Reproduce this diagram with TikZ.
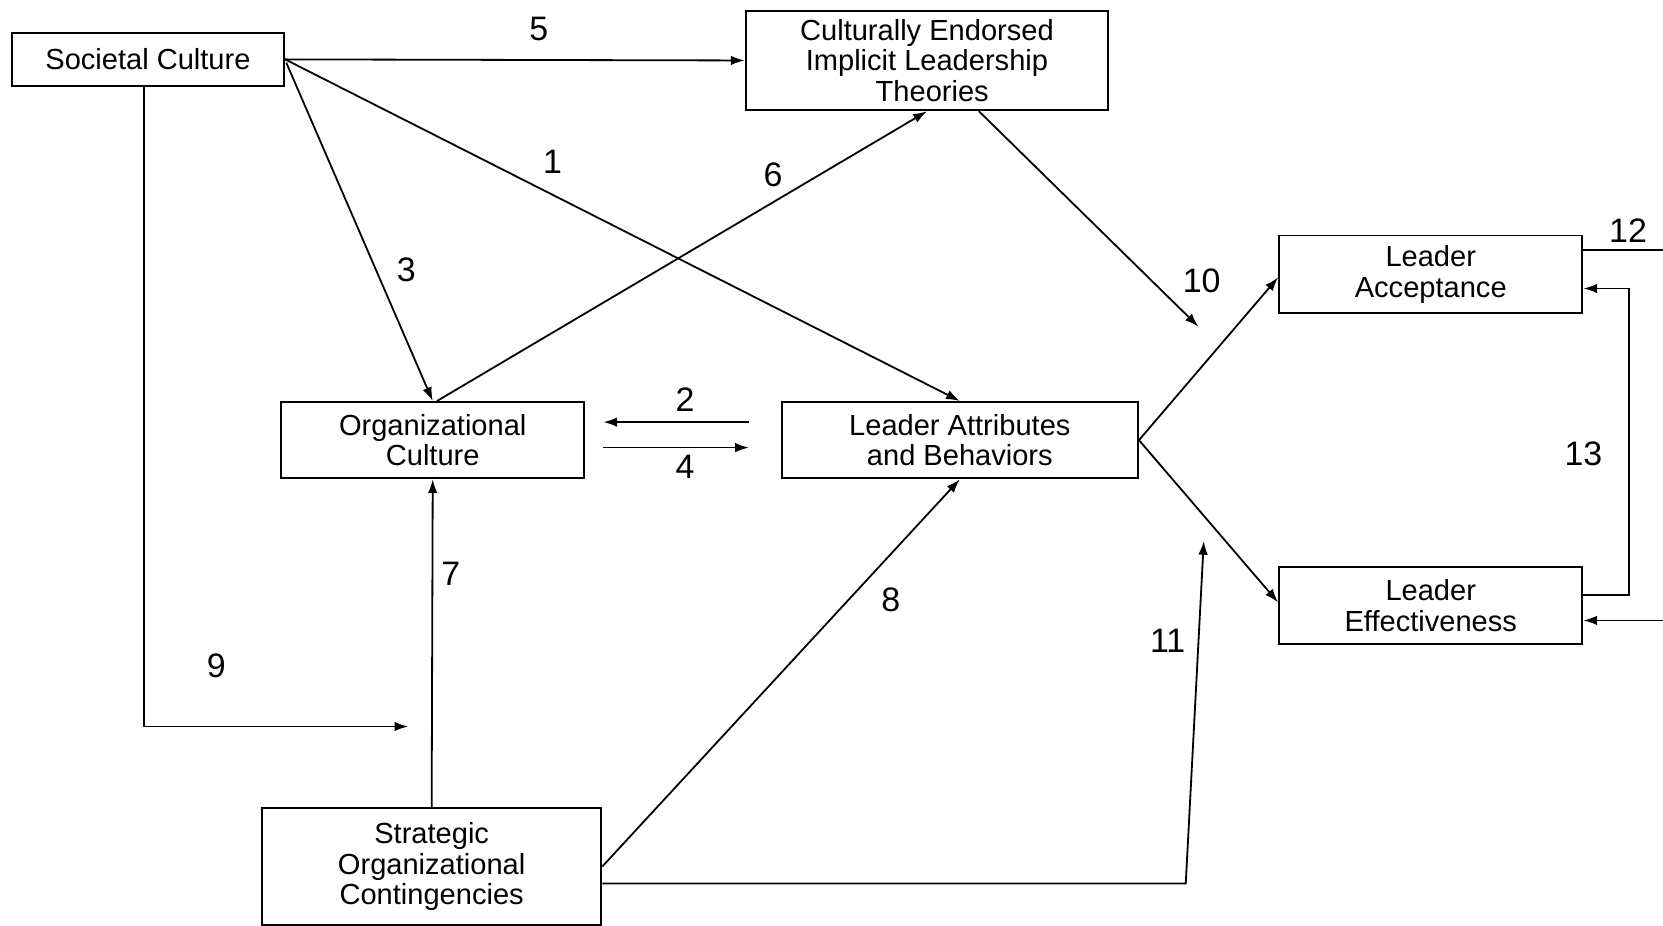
\documentclass[tikz,border=0pt]{standalone}
\usepackage{fontspec}
\setmainfont{Liberation Sans}
\usetikzlibrary{arrows.meta,calc}
\tikzset{
  box/.style={draw, line width=1.8pt, rectangle, inner sep=0pt, align=center,
    font=\fontsize{27.4}{29}\selectfont},
  num/.style={inner sep=0pt, font=\fontsize{32}{32}\selectfont},
  conn/.style={line width=1.7pt, -{Latex[length=13pt,width=9pt]}},
  plain/.style={line width=1.7pt},
}
\begin{document}
\begin{tikzpicture}[x=1pt,y=-1pt]
\useasboundingbox (0,0) rectangle (1568,873);
% boxes
\node[box, minimum width=257pt, minimum height=50pt] (sc) at (139.5,56) {Societal Culture};
\node[box, minimum width=342pt, minimum height=94pt] (ceilt) at (874,57) {Culturally Endorsed\\Implicit Leadership\\\hspace*{10pt}Theories};
\node[box, minimum width=286pt, minimum height=72pt] (oc) at (408,415) {Organizational\\Culture};
\node[box, minimum width=336pt, minimum height=72pt] (lab) at (905,415) {Leader Attributes\\and Behaviors};
\node[box, minimum width=286pt, minimum height=73pt] (la) at (1349,258.5) {Leader\\Acceptance};
\node[box, minimum width=286pt, minimum height=72pt] (le) at (1349,571) {Leader\\Effectiveness};
\node[box, minimum width=320pt, minimum height=110pt] (soc) at (407,817) {Strategic\\Organizational\\Contingencies};
% free-end coordinates
\coordinate (c10) at (1130,308);
\coordinate (c9) at (385,685);
\coordinate (c11a) at (1118,833);
\coordinate (c11b) at (1135,510);
\coordinate (c12) at (1568,236);
\coordinate (c14) at (1568,585);
% connectors
\draw[conn] (sc.east) -- (ceilt.west);
\draw[conn] (sc.east) -- (lab.north);
\draw[conn] ($(sc.east)+(1,3)$) -- (oc.north);
\draw[conn] ($(oc.north)+(4,0)$) -- (ceilt.south);
\draw[conn] ($(ceilt.south)+(49,0)$) -- (c10);
\draw[conn] (lab.east) -- ($(la.west)+(0,3)$);
\draw[conn] (lab.east) -- ($(le.west)+(0,-3)$);
\draw[conn] ($(lab.west)+(-30,-17)$) -- ($(oc.east)+(17,-17)$);
\draw[conn] ($(oc.east)+(17,7)$) -- ($(lab.west)+(-30,7)$);
\draw[conn] ($(sc.south)+(-3.5,0)$) |- (c9);
\draw[conn] (soc.north) -- (oc.south);
\draw[conn] (soc.east) -- (lab.south);
\draw[conn] ($(soc.east)+(0,16)$) -- (c11a) -- (c11b);
\draw[plain] ($(la.east)+(0,-22.5)$) -- (c12);
\draw[conn] ($(le.east)+(0,-10)$) -- ++(43,0) |- ($(la.east)+(0,13.5)$);
\draw[conn] (c14) -- ($(le.east)+(0,14)$);
% labels
\node[num] (l5) at (508,27) {5};
\node[num] (l1) at (521,153) {1};
\node[num] (l3) at (383,254) {3};
\node[num] (l6) at (729,165) {6};
\node[num] (l10) at (1133,265) {10};
\node[num] (l2) at (646,377) {2};
\node[num] (l4) at (646,440) {4};
\node[num] (l9) at (204,628) {9};
\node[num] (l7) at (425,541) {7};
\node[num] (l8) at (840,566) {8};
\node[num] (l11) at (1101,604) {11};
\node[num] (l12) at (1535,217) {12};
\node[num] (l13) at (1493,428) {13};
\end{tikzpicture}
\end{document}
